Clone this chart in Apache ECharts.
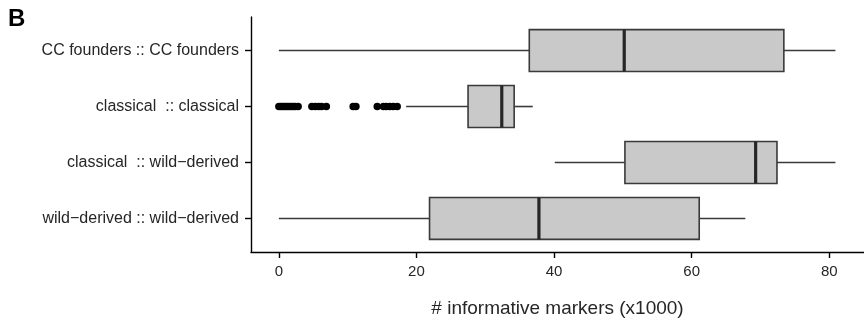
<!DOCTYPE html>
<html>
<head>
<meta charset="utf-8">
<script src="https://cdn.jsdelivr.net/npm/echarts@6/dist/echarts.min.js"></script>
<style>
  html, body { margin: 0; padding: 0; background: #fff; }
  #chart { width: 864px; height: 323px; }
</style>
</head>
<body>
<div id="chart"></div>
<script>
// Pairwise comparison groups, top to bottom
const categories = [
  'CC founders :: CC founders',
  'classical  :: classical',
  'classical  :: wild\u2212derived',
  'wild\u2212derived :: wild\u2212derived'
];
// Five-number summaries (x1000 informative markers)
const whiskerLow  = [0.0, 18.5, 40.1, 0.0];
const quartile1   = [36.4, 27.5, 50.3, 21.9];
const medians     = [50.2, 32.4, 69.3, 37.8];
const quartile3   = [73.4, 34.2, 72.4, 61.1];
const whiskerHigh = [80.9, 36.9, 80.9, 67.8];
// Outlying pairs in the classical :: classical group
const classicalOutliers = [
  0.0, 0.3, 0.6, 0.9, 1.2, 1.5, 1.8, 2.1, 2.4, 2.8,
  4.8, 5.3, 5.8, 6.2, 6.9,
  10.8, 11.2,
  14.3, 15.2, 15.6, 16.1, 16.6, 17.2
];
const xTicks = [0, 20, 40, 60, 80];

const FONT = '"Liberation Sans", Arial, Helvetica, sans-serif';
const TEXT = '#262626';

const boxRows = categories.map((c, i) => [
  i + 1, whiskerLow[i], quartile1[i], medians[i], quartile3[i], whiskerHigh[i]
]);
const outlierPoints = classicalOutliers.map(v => [v, 2]);

function renderBox(params, api) {
  const y = api.value(0);
  const lo = api.coord([api.value(1), y]);
  const q1 = api.coord([api.value(2), y]);
  const md = api.coord([api.value(3), y]);
  const q3 = api.coord([api.value(4), y]);
  const hi = api.coord([api.value(5), y]);
  const h = api.size([0, 0.75])[1];
  const top = q1[1] - h / 2;
  const wStyle = { stroke: '#3a3a3a', lineWidth: 1.6 };
  return {
    type: 'group',
    children: [
      { type: 'line', shape: { x1: lo[0], y1: lo[1], x2: q1[0], y2: q1[1] }, style: wStyle },
      { type: 'line', shape: { x1: q3[0], y1: q3[1], x2: hi[0], y2: hi[1] }, style: wStyle },
      {
        type: 'rect',
        shape: { x: q1[0], y: top, width: q3[0] - q1[0], height: h },
        style: { fill: '#c9c9c9', stroke: '#3a3a3a', lineWidth: 1.6 }
      },
      { type: 'line', shape: { x1: md[0], y1: top, x2: md[0], y2: top + h }, style: { stroke: '#262626', lineWidth: 3.2 } }
    ]
  };
}

const chart = echarts.init(document.getElementById('chart'), null, { renderer: 'canvas' });
chart.setOption({
  animation: false,
  backgroundColor: '#ffffff',
  graphic: [{
    type: 'text', left: 8, top: 7,
    style: { text: 'B', font: 'bold 24px ' + FONT, fill: '#000' }
  }],
  grid: { left: 251, right: -7, top: 17, bottom: 71 },
  xAxis: {
    type: 'value',
    min: -4.05, max: 85.05,
    name: '# informative markers (x1000)',
    nameLocation: 'middle',
    nameGap: 47,
    nameTextStyle: { fontFamily: FONT, fontSize: 19, color: TEXT },
    axisLine: { show: true, onZero: false, lineStyle: { color: '#000', width: 1.4 } },
    axisTick: { show: true, customValues: xTicks, length: 6, lineStyle: { color: '#000', width: 1.4 } },
    axisLabel: { customValues: xTicks, margin: 12, fontFamily: FONT, fontSize: 15, color: TEXT },
    splitLine: { show: false }
  },
  yAxis: {
    type: 'value',
    inverse: true,
    min: 0.4, max: 4.6,
    axisLine: { show: true, onZero: false, lineStyle: { color: '#000', width: 1.4 } },
    axisTick: { show: true, customValues: [1, 2, 3, 4], length: 6, lineStyle: { color: '#000', width: 1.4 } },
    axisLabel: {
      customValues: [1, 2, 3, 4],
      margin: 12,
      fontFamily: FONT, fontSize: 16, color: TEXT,
      formatter: v => categories[Math.round(v) - 1]
    },
    splitLine: { show: false }
  },
  series: [
    {
      type: 'custom',
      renderItem: renderBox,
      encode: { x: [1, 2, 3, 4, 5], y: 0 },
      data: boxRows,
      clip: false
    },
    {
      type: 'scatter',
      data: outlierPoints,
      symbol: 'circle',
      symbolSize: 7.5,
      itemStyle: { color: '#000', opacity: 1 },
      z: 3
    }
  ]
});
</script>
</body>
</html>
